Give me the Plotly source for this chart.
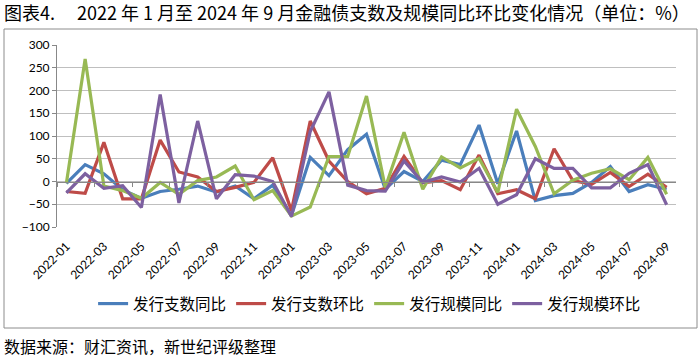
import plotly.graph_objects as go

months = ["2022-01","2022-02","2022-03","2022-04","2022-05","2022-06","2022-07","2022-08","2022-09","2022-10","2022-11","2022-12",
          "2023-01","2023-02","2023-03","2023-04","2023-05","2023-06","2023-07","2023-08","2023-09","2023-10","2023-11","2023-12",
          "2024-01","2024-02","2024-03","2024-04","2024-05","2024-06","2024-07","2024-08","2024-09"]

count_yoy = [-4, 37, 17, -18, -37, -22, -17, -10, -23, -10, -38, -8, -75, 53, 13, 70, 104, -17, 22, 0, 47, 37, 124, -5,
             111, -42, -31, -26, -2, 33, -22, -7, -17]
count_mom = [-22, -26, 86, -38, -38, 91, 21, 10, -22, -13, -2, 52, -64, 133, 45, 0, -27, -15, 55, -3, 2, -18, 58, -27,
             -18, -38, 72, 2, -6, 20, -11, 16, -13]
size_yoy = [-4, 269, -10, -20, -37, -2, -28, 2, 10, 34, -40, -20, -76, -56, 55, 55, 188, -13, 108, -17, 54, 30, 51, -24,
            159, 77, -27, 3, 18, 28, 4, 53, -28]
size_mom = [-25, 17, -15, -9, -57, 191, -47, 133, -38, 15, 12, 0, -77, 110, 197, -8, -20, -21, 45, -2, 10, -1, 29, -50,
            -29, 50, 29, 29, -14, -14, 18, 37, -51]

series_names = ["发行支数同比", "发行支数环比", "发行规模同比", "发行规模环比"]
series_vals = [count_yoy, count_mom, size_yoy, size_mom]
colors = ["#4A7EBB", "#BE4B48", "#98B954", "#7D60A0"]

title_text = "图表4.\u3000 2022 年 1 月至 2024 年 9 月金融债支数及规模同比环比变化情况（单位：%）"
source_text = "数据来源：财汇资讯，新世纪评级整理"
yticks = [-100, -50, 0, 50, 100, 150, 200, 250, 300]

fig = go.Figure()
for name, vals, c in zip(series_names, series_vals, colors):
    fig.add_trace(go.Scatter(x=months, y=vals, mode="lines", name=name,
                             line=dict(color=c, width=3.2)))
# axis-line carrier at zero
fig.add_trace(go.Scatter(x=months, y=[None]*len(months), xaxis="x2", showlegend=False,
                         hoverinfo="skip", mode="lines"))

L, R, T, B = 57, 24, 45, 130
fig.update_layout(
    width=700, height=357,
    margin=dict(l=L, r=R, t=T, b=B, autoexpand=False),
    paper_bgcolor="white", plot_bgcolor="white",
    font=dict(family="Lato, Liberation Sans, sans-serif", size=12, color="#000"),
    xaxis=dict(type="category", categoryorder="array", categoryarray=months,
               range=[-0.5, len(months)-0.5], tickmode="array",
               tickvals=months[::2], ticktext=months[::2], tickangle=-45,
               showgrid=False, showline=False, ticks="", zeroline=False,
               automargin=False, ticklabelstandoff=9,
               tickfont=dict(size=12, family="Lato, Liberation Sans, sans-serif")),
    xaxis2=dict(type="category", categoryorder="array", categoryarray=months,
                overlaying="x", anchor="free", position=0.25,
                range=[-0.5, len(months)-0.5], tickson="boundaries", dtick=2,
                ticks="outside", ticklen=4, tickcolor="#888", showticklabels=False,
                showline=True, linecolor="#888", linewidth=1, showgrid=False, zeroline=False),
    yaxis=dict(range=[-100, 300], tickvals=yticks, showgrid=True, gridcolor="#BFBFBF",
               gridwidth=1.3, zeroline=False, showline=True, linecolor="#888",
               ticks="outside", ticklen=4, tickcolor="#888", automargin=False,
               tickfont=dict(size=12, family="Lato, Liberation Sans, sans-serif")),
    legend=dict(orientation="h", x=0.505, xanchor="center", y=-(304 - 227) / 182, yanchor="middle",
                font=dict(size=15.5, family="Noto Sans CJK SC"), itemwidth=30,
                tracegroupgap=0),
    showlegend=True,
)

pw, ph = 700 - L - R, 357 - T - B
def px(xp): return (xp - L) / pw
def py(yp): return (357 - B - yp) / ph

fig.add_shape(type="rect", xref="paper", yref="paper",
              x0=px(4), x1=px(697), y0=py(328), y1=py(29),
              line=dict(color="#8C8C8C", width=1), fillcolor="rgba(0,0,0,0)", layer="above")

fig.add_annotation(text=title_text, xref="paper", yref="paper", x=px(2), y=py(12),
                   xanchor="left", yanchor="middle", showarrow=False,
                   font=dict(size=18, family="Noto Sans CJK SC", color="#000"))
fig.add_annotation(text=source_text, xref="paper", yref="paper", x=px(2), y=py(346),
                   xanchor="left", yanchor="middle", showarrow=False,
                   font=dict(size=16, family="Noto Sans CJK SC", color="#000"))

fig.write_html("out.html", config={"displayModeBar": False},
               post_script="document.body.style.margin='0';document.body.style.overflow='hidden';")
